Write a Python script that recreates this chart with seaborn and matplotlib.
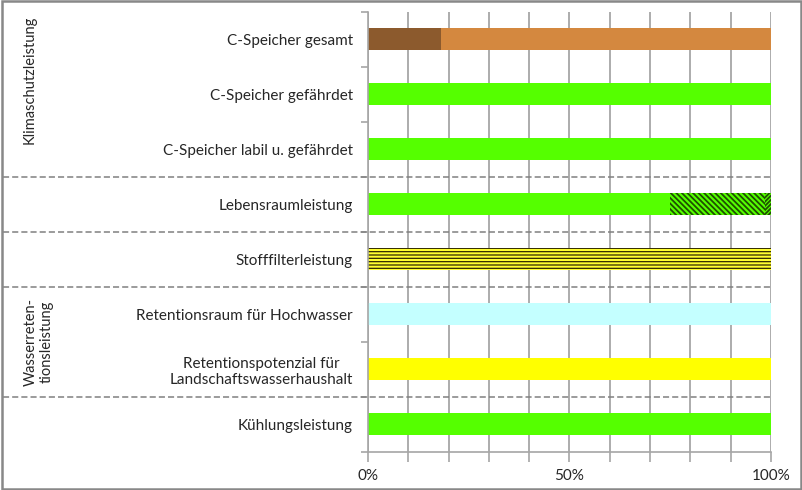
import pandas as pd
import seaborn as sns
import matplotlib.pyplot as plt
from matplotlib.patches import Rectangle

# categories, top to bottom
categories = ['C-Speicher gesamt', 'C-Speicher gefährdet', 'C-Speicher labil u. gefährdet',
              'Lebensraumleistung', 'Stofffilterleistung', 'Retentionsraum für Hochwasser',
              'Retentionspotenzial für\nLandschaftswasserhaushalt', 'Kühlungsleistung']

# share in % of each stacked segment
seg_1 = [18, 100, 100, 75, 100, 100, 100, 100]
seg_2 = [82, 0, 0, 23.5, 0, 0, 0, 0]
seg_3 = [0, 0, 0, 1.5, 0, 0, 0, 0]

green = '#55FF00'
col_1 = ['#8C5A2D', green, green, green, '#FFFF30', '#C4FFFF', '#FFFF00', green]
col_2 = ['#D4883F', green, green, green, green, green, green, green]
col_3 = [green] * 8
hatch_1 = ['', '', '', '', '-----', '', '', '']
hatch_2 = ['', '', '', '\\' * 6, '', '', '', '']
hatch_3 = ['', '', '', '/' * 8, '', '', '', '']
hatch_col = ['none', 'none', 'none', '#1E5000', '#302800', 'none', 'none', 'none']
hatch_lw = [1, 1, 1, 1.3, 0.9, 1, 1, 1]

group_lines = [2.5, 3.5, 4.5, 6.5]

sns.set_theme(style='white')
plt.rcParams['font.family'] = ['Lato', 'DejaVu Sans']
plt.rcParams['hatch.linewidth'] = 1.3

fig = plt.figure(figsize=(8.03, 4.90), dpi=100)
ax = fig.add_axes([0.4583, 0.0776, 0.5018, 0.898])

segs = [seg_1, seg_2, seg_3]
cols = [col_1, col_2, col_3]
hatches = [hatch_1, hatch_2, hatch_3]

# draw cumulative layers from the outermost down so the inner ones sit on top
cum = [seg_1]
cum.append([a + b for a, b in zip(seg_1, seg_2)])
cum.append([a + b for a, b in zip(cum[1], seg_3)])

for k in [2, 1, 0]:
    df = pd.DataFrame({'cat': categories, 'val': cum[k], 'w': segs[k]})
    df = df[df['w'] > 0]
    pal = {c: cols[k][i] for i, c in enumerate(categories)}
    n0 = len(ax.patches)
    sns.barplot(data=df, x='val', y='cat', hue='cat', palette=pal, order=categories,
                hue_order=categories, dodge=False, legend=False, errorbar=None,
                width=0.4, saturation=1, linewidth=0, ax=ax)
    for p in ax.patches[n0:]:
        if p.get_width() <= 0:
            continue
        i = int(round(p.get_y() + p.get_height() / 2))
        if hatches[k][i]:
            p.set_hatch(hatches[k][i])
            p.set_edgecolor(hatch_col[i])
            p.set_linewidth(0)
            if hasattr(p, 'set_hatch_linewidth'):
                p.set_hatch_linewidth(hatch_lw[i])

ax.set_xlim(0, 100)
ax.set_ylim(7.5, -0.5)
ax.set_xlabel('')
ax.set_ylabel('')

ax.set_xticks([0, 50, 100])
ax.set_xticklabels(['0%', '50%', '100%'])
ax.set_xticks(range(0, 101, 10), minor=True)
ax.xaxis.grid(True, which='minor', color='#A6A6A6', linewidth=1.3)
ax.xaxis.grid(True, which='major', color='#A6A6A6', linewidth=1.3)
ax.set_axisbelow(True)
ax.tick_params(axis='x', which='both', direction='out', length=7, color='#A6A6A6',
               width=1.2, bottom=True, labelsize=11, pad=5)

ax.set_yticks(range(len(categories)))
ax.set_yticklabels(categories)
ax.set_yticks([i - 0.5 for i in range(len(categories) + 1)], minor=True)
ax.tick_params(axis='y', which='major', length=0, labelsize=11, pad=11)
ax.tick_params(axis='y', which='minor', direction='out', length=5, color='#A6A6A6',
               width=1.2, left=True)
for lab in ax.get_yticklabels():
    lab.set_multialignment('center')

for side in ['top', 'right']:
    ax.spines[side].set_visible(False)
for side in ['left', 'bottom']:
    ax.spines[side].set_color('#A6A6A6')
    ax.spines[side].set_linewidth(1.2)

# dashed separators between groups
for y in group_lines:
    ax.plot([-0.905, 1.0], [y, y], transform=ax.get_yaxis_transform(), clip_on=False,
            color='#808080', linestyle=(0, (4, 2)), linewidth=1.1)

fig.text(30 / 803, 1 - 80 / 490, 'Klimaschutzleistung', rotation=90,
         ha='center', va='center', fontsize=10.5)
fig.text(39 / 803, 1 - 342 / 490, 'Wasserreten-\ntionsleistung', rotation=90,
         ha='center', va='center', fontsize=10.5, multialignment='center')

fig.patches.append(Rectangle((0.002, 0.003), 0.995, 0.994, transform=fig.transFigure,
                             fill=False, edgecolor='#888888', linewidth=1.8))

plt.savefig('out.png', dpi=100)
